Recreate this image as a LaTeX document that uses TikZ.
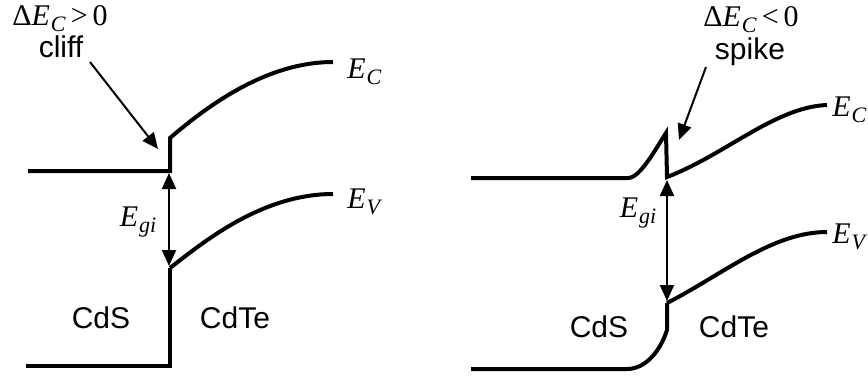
\documentclass[tikz,border=0pt]{standalone}
\usepackage{fontspec}
\setmainfont{Liberation Sans}
\newfontfamily\symfont{Liberation Serif}
\usetikzlibrary{arrows.meta}
% band energy symbol, E with italic subscript
\newcommand{\ener}[1]{\textit{E}\kern0.5pt\raisebox{-0.45ex}{\fontsize{11}{12}\selectfont\textit{#1}}}
\begin{document}
\begin{tikzpicture}[x=0.5pt,y=-0.5pt,
  band/.style={line width=2pt,line join=miter},
  gap/.style={line width=1pt,{Triangle[length=8pt,width=7pt]}-{Triangle[length=8pt,width=7pt]}},
  pointer/.style={line width=1pt,-{Triangle[length=8pt,width=7pt]}},
  sym/.style={font=\symfont\fontsize{15}{17}\selectfont,inner sep=0.5pt},
  mat/.style={font=\fontsize{15}{17}\selectfont,inner sep=0.5pt}]
\useasboundingbox (0,0) rectangle (868,380);
% cliff (left)
\draw[band] (28,171) -- (170,171) -- (170,138) .. controls (205,108) and (265,62) .. (333,62);
\draw[band] (170,268) .. controls (200,245) and (260,194) .. (333,194);
\draw[band] (170,268) -- (170,366) -- (26,366);
\coordinate (cbL) at (169,173);
\coordinate (vbL) at (169,266);
\draw[gap] (cbL) -- (vbL);
\node[sym] (egiL) at (138,222) {\ener{gi}};
\node[sym,anchor=west] (ecL) at (346,72) {\ener{C}};
\node[sym,anchor=west] (evL) at (346,202) {\ener{V}};
\node[sym] (dL) at (60,19) {Δ\ener{C}\,>\,0};
\node[mat] (cliff) at (61,47) {cliff};
\coordinate (cliffA) at (90,62);
\coordinate (cliffB) at (158,149);
\draw[pointer] (cliffA) -- (cliffB);
\node[mat] (cdsL) at (101,318) {CdS};
\node[mat] (cdteL) at (235,318) {CdTe};
% spike (right)
\draw[band] (471,178) -- (628,178) .. controls (640,178) and (655,150) .. (666,133)
  -- (667,177) .. controls (725,155) and (775,107) .. (827,105);
\draw[band] (667,303) .. controls (722,275) and (772,232) .. (827,232);
\draw[band] (667,303) -- (667,330) .. controls (660,352) and (645,369) .. (627,369) -- (471,369);
\coordinate (cbR) at (667,180);
\coordinate (vbR) at (667,301);
\draw[gap] (cbR) -- (vbR);
\node[sym] (egiR) at (638,213) {\ener{gi}};
\node[sym,anchor=west] (ecR) at (831,110) {\ener{C}};
\node[sym,anchor=west] (evR) at (831,237) {\ener{V}};
\node[sym] (dR) at (751,20) {Δ\ener{C}\,<\,0};
\node[mat] (spike) at (750,52) {spike};
\coordinate (spikeA) at (706,67);
\coordinate (spikeB) at (679,140);
\draw[pointer] (spikeA) -- (spikeB);
\node[mat] (cdsR) at (599,327) {CdS};
\node[mat] (cdteR) at (734,327) {CdTe};
\end{tikzpicture}
\end{document}
